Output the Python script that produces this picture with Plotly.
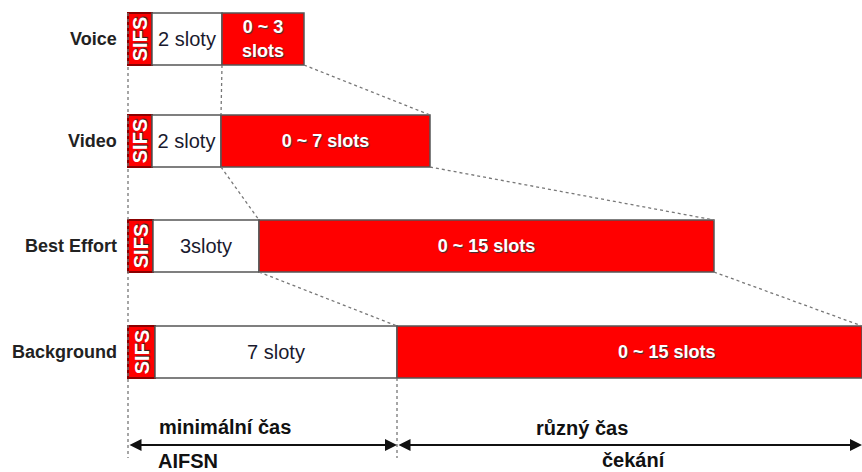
import plotly.graph_objects as go

# ---- data (diagram units along the time axis) ----
categories = ["Voice", "Video", "Best Effort", "Background"]
sifs_end = [152, 152, 153, 155]
aifsn_end = [222, 221, 259, 397]
cw_end = [304, 430, 714, 862]
aifsn_labels = ["2 sloty", "2 sloty", "3sloty", "7 sloty"]
cw_labels = ["0 ~ 3<br>slots", "0 ~ 7 slots", "0 ~ 15 slots", "0 ~ 15 slots"]
start = 128

# ---- layout constants ----
row_y = [39, 141, 246, 352]
bar_h = 52
W, H = 862, 472
arrow_y = 445
last_label_shift = 37

RED = "#ff0000"
LABEL_FONT = "Liberation Sans, Arial, sans-serif"
cw_font = dict(family=LABEL_FONT, size=18, color="white", weight="bold",
               shadow="1px 1px 1px #333")

fig = go.Figure()

# SIFS boxes
fig.add_trace(go.Bar(
    y=row_y, base=[start] * 4, x=[e - start for e in sifs_end], orientation="h",
    width=bar_h, marker=dict(color=RED, line=dict(color="#8b0000", width=2)),
    text=["SIFS"] * 4, textposition="inside", insidetextanchor="middle",
    textangle=-90, constraintext="none",
    textfont=dict(family=LABEL_FONT, size=20, color="white", weight="bold",
                  shadow="1px 1px 1px #222"),
    hoverinfo="skip"))

# AIFSN (white) boxes
fig.add_trace(go.Bar(
    y=row_y, base=sifs_end, x=[a - s for a, s in zip(aifsn_end, sifs_end)],
    orientation="h", width=bar_h,
    marker=dict(color="white", line=dict(color="#555555", width=1.5)),
    text=aifsn_labels, textposition="inside", insidetextanchor="middle",
    textangle=0, constraintext="none",
    textfont=dict(family=LABEL_FONT, size=20, color="#1a1a2e"),
    hoverinfo="skip"))

# contention window (red) boxes
bar_texts = cw_labels[:-1] + [""]
fig.add_trace(go.Bar(
    y=row_y, base=aifsn_end, x=[c - a for c, a in zip(cw_end, aifsn_end)],
    orientation="h", width=bar_h,
    marker=dict(color=RED, line=dict(color="#555555", width=1.5)),
    text=bar_texts, textposition="inside", insidetextanchor="middle",
    textangle=0, constraintext="none", textfont=cw_font,
    hoverinfo="skip"))

# dotted guide lines
dot = dict(color="#777777", width=1.3, dash="dot")
top = [y - bar_h / 2 for y in row_y]
bot = [y + bar_h / 2 for y in row_y]
lines = [
    ([start, start], [top[0], 458]),
    ([aifsn_end[0], aifsn_end[1]], [bot[0], top[1]]),
    ([cw_end[0], cw_end[1]], [bot[0], top[1]]),
    ([aifsn_end[1], aifsn_end[2]], [bot[1], top[2]]),
    ([cw_end[1], cw_end[2]], [bot[1], top[2]]),
    ([aifsn_end[2], aifsn_end[3]], [bot[2], top[3]]),
    ([cw_end[2], cw_end[3]], [bot[2], top[3]]),
    ([aifsn_end[3], aifsn_end[3]], [bot[3], 458]),
]
for xs, ys in lines:
    fig.add_trace(go.Scatter(x=xs, y=ys, mode="lines", line=dot,
                             hoverinfo="skip", showlegend=False))

annotations = []
for name, y in zip(categories, row_y):
    annotations.append(dict(x=119, y=y, xref="x", yref="y", text=name,
                            showarrow=False, xanchor="right",
                            font=dict(family=LABEL_FONT, size=18, color="#222",
                                      weight="bold")))

# last contention-window label (off-centre in the original)
annotations.append(dict(x=(aifsn_end[3] + cw_end[3]) / 2 + last_label_shift,
                        y=row_y[3], xref="x", yref="y", text=cw_labels[3],
                        showarrow=False, font=cw_font))

# arrows
for x0, x1 in [(start, aifsn_end[3]), (aifsn_end[3], cw_end[3])]:
    annotations.append(dict(x=x1, y=arrow_y, ax=x0, ay=arrow_y, xref="x", yref="y",
                            axref="x", ayref="y", text="", showarrow=True,
                            arrowhead=2, arrowsize=1.2, arrowwidth=2,
                            arrowside="end+start", arrowcolor="#111"))

texts = [
    ("minimální čas", 225, 427),
    ("AIFSN", 188, 461),
    ("různý čas", 582, 428),
    ("čekání", 634, 460),
]
for t, x, y in texts:
    annotations.append(dict(x=x, y=y, xref="x", yref="y", text=t, showarrow=False,
                            font=dict(family=LABEL_FONT, size=20, color="#111",
                                      weight="bold")))

fig.update_layout(
    width=W, height=H, margin=dict(l=0, r=0, t=0, b=0),
    paper_bgcolor="white", plot_bgcolor="white",
    showlegend=False, barmode="overlay",
    xaxis=dict(range=[0, W], visible=False, fixedrange=True),
    yaxis=dict(range=[H, 0], visible=False, fixedrange=True),
    annotations=annotations,
)

fig.write_html("out.html", config={"displayModeBar": False},
               post_script="document.body.style.margin='0';document.body.style.overflow='hidden';")
